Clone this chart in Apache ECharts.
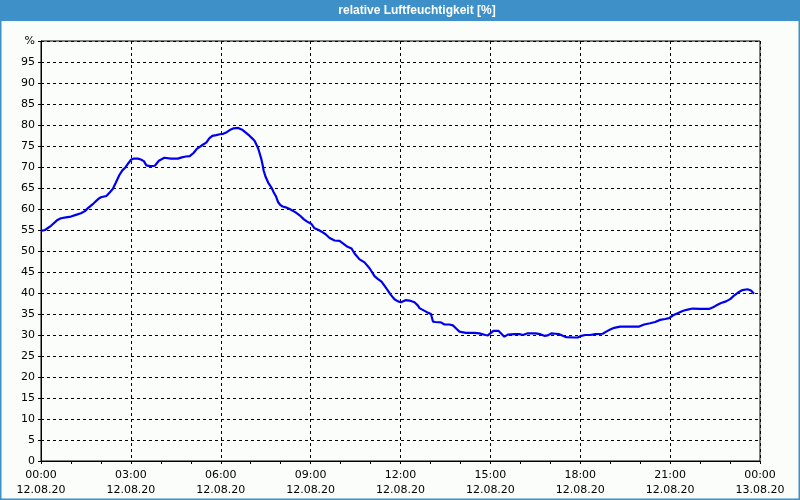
<!DOCTYPE html>
<html>
<head>
<meta charset="utf-8">
<script src="https://cdn.jsdelivr.net/npm/echarts@6/dist/echarts.min.js"></script>
<style>
html,body{margin:0;padding:0;background:#fbfdfb;}
#c{width:800px;height:500px;}
</style>
</head>
<body>
<div id="c"></div>
<script>
// Title
var chartTitle = 'relative Luftfeuchtigkeit [%]';
// X tick labels (every 3 hours)
var timeLabels = ['00:00','03:00','06:00','09:00','12:00','15:00','18:00','21:00','00:00'];
var dateLabels = ['12.08.20','12.08.20','12.08.20','12.08.20','12.08.20','12.08.20','12.08.20','12.08.20','13.08.20'];
// Y tick labels
var yLabels = ['0','5','10','15','20','25','30','35','40','45','50','55','60','65','70','75','80','85','90','95','%'];
// Series: minutes since 00:00 on 12.08.20, relative humidity %
var minutes = [0,8,20,32,40,50,60,70,80,88,94,105,115,120,131,138,144,150,157,163,169,175,180,186,194,200,206,211,218,228,236,247,260,274,282,290,298,306,312,318,324,331,337,343,351,358,365,372,378,386,395,404,412,418,424,428,432,435,438,441,444,446,450,455,462,466,471,475,479,484,490,498,510,518,526,533,541,548,556,562,570,578,588,598,606,614,622,628,638,648,658,668,675,682,691,701,708,715,721,730,738,748,755,758,772,781,785,790,801,808,818,825,832,838,851,868,878,890,895,901,906,916,922,928,935,948,958,965,975,990,1000,1008,1015,1022,1030,1038,1045,1052,1068,1075,1082,1090,1100,1110,1125,1132,1140,1148,1160,1180,1198,1208,1220,1230,1240,1250,1258,1266,1275,1285,1293,1305,1320,1338,1346,1352,1362,1372,1381,1388,1396,1405,1415,1422,1428];
var humidity = [54.8,55.0,56.0,57.3,57.8,58.0,58.2,58.6,59.0,59.5,60.2,61.3,62.4,62.8,63.1,64.0,64.8,66.3,68.1,69.2,69.9,70.9,71.7,72.0,72.0,71.8,71.4,70.4,70.2,70.3,71.5,72.2,72.0,72.0,72.3,72.5,72.6,73.4,74.3,74.8,75.3,75.8,76.8,77.4,77.6,77.8,77.9,78.3,78.8,79.2,79.3,78.8,78.0,77.4,76.7,76.2,75.2,74.4,73.2,72.0,70.4,69.1,67.6,66.3,65.0,64.0,62.9,61.6,61.0,60.6,60.4,60.0,59.2,58.5,57.6,57.0,56.5,55.4,55.0,54.6,54.0,53.1,52.5,52.4,51.7,51.0,50.6,49.4,48.0,47.3,45.9,44.0,43.3,42.7,41.2,39.5,38.5,38.0,37.8,38.3,38.2,37.8,37.0,36.4,35.5,35.0,33.2,33.1,33.0,32.5,32.5,32.3,31.5,30.8,30.5,30.5,30.4,30.0,29.9,30.5,31.0,31.0,30.3,29.6,30.1,30.2,30.2,30.0,30.4,30.4,30.2,29.8,29.9,30.4,30.3,30.2,29.8,29.5,29.4,29.4,29.8,30.0,30.0,30.2,30.3,30.8,31.3,31.7,32.0,32.0,32.0,32.5,32.8,33.1,33.6,33.8,34.0,34.7,35.2,35.7,36.0,36.3,36.2,36.2,36.6,37.0,37.6,38.0,38.6,39.4,40.1,40.7,40.9,40.6,39.8];

var seriesData = minutes.map(function(m, i){ return [m, humidity[i]]; });
var blue = '#3d90c8';
var font = 'DejaVu Sans';

var chart = echarts.init(document.getElementById('c'), null, {renderer:'canvas'});
chart.setOption({
  backgroundColor: '#fbfdfb',
  animation: false,
  graphic: [
    {type:'rect', shape:{x:0,y:0,width:800,height:21}, style:{fill:blue}, z:0},
    {type:'rect', shape:{x:0.5,y:0.5,width:799,height:499}, style:{fill:'none', stroke:blue, lineWidth:2}, z:0},
    {type:'text', x:417, y:11, style:{text:chartTitle, fill:'#ffffff', font:'bold 12px "Liberation Sans"', textAlign:'center', textVerticalAlign:'middle'}, z:10}
  ],
  grid: {left:41, right:40, top:41, bottom:39, show:true, borderColor:'#000', borderWidth:1, backgroundColor:'transparent'},
  xAxis: {
    type:'value', min:0, max:1440, interval:180,
    axisLine:{show:true, lineStyle:{color:'#000', width:1}},
    axisTick:{show:true, length:3, lineStyle:{color:'#000'}},
    minorTick:{show:true, splitNumber:3, length:3, lineStyle:{color:'#000'}},
    splitLine:{show:true, lineStyle:{color:'#000', type:[3,3], width:1}},
    axisLabel:{
      margin:7, color:'#000', fontFamily:font, fontSize:11, lineHeight:15,
      formatter:function(v){ var i = Math.round(v/180); return timeLabels[i] + '\n' + dateLabels[i]; }
    }
  },
  yAxis: {
    type:'value', min:0, max:100, interval:5,
    axisLine:{show:true, lineStyle:{color:'#000', width:1}},
    axisTick:{show:true, length:3, lineStyle:{color:'#000'}},
    splitLine:{show:true, lineStyle:{color:'#000', type:[3,3], width:1}},
    axisLabel:{
      margin:6, color:'#000', fontFamily:font, fontSize:11,
      formatter:function(v){ return yLabels[Math.round(v/5)]; }
    }
  },
  series: [{
    type:'line', data:seriesData, showSymbol:false, smooth:false,
    lineStyle:{color:'#0000ee', width:2.2}, itemStyle:{color:'#0000ee'}
  }]
});
</script>
</body>
</html>
